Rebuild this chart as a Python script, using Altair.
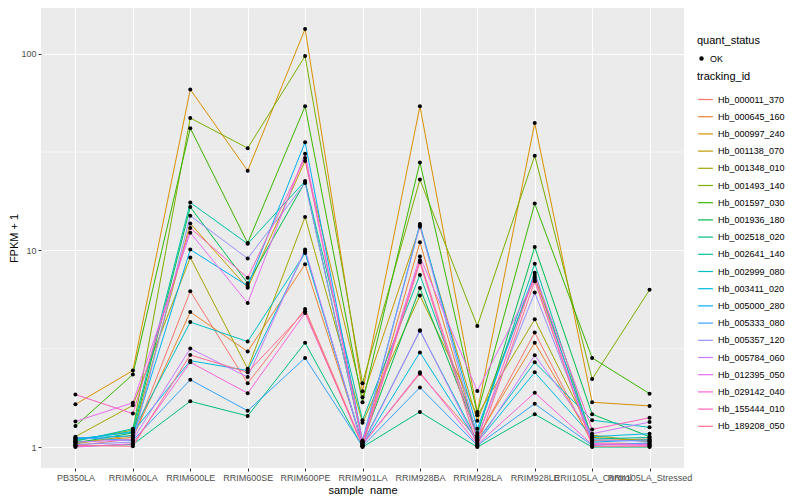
import altair as alt
import pandas as pd

samples = ["PB350LA", "RRIM600LA", "RRIM600LE", "RRIM600SE", "RRIM600PE", "RRIM901LA",
           "RRIM928BA", "RRIM928LA", "RRIM928LE", "RRII105LA_Control", "RRII105LA_Stressed"]

ids = ["Hb_000011_370", "Hb_000645_160", "Hb_000997_240", "Hb_001138_070", "Hb_001348_010",
       "Hb_001493_140", "Hb_001597_030", "Hb_001936_180", "Hb_002518_020", "Hb_002641_140",
       "Hb_002999_080", "Hb_003411_020", "Hb_005000_280", "Hb_005333_080", "Hb_005357_120",
       "Hb_005784_060", "Hb_012395_050", "Hb_029142_040", "Hb_155444_010", "Hb_189208_050"]

hb_000011_370 = [1.02, 1.10, 6.2, 2.11, 5.03, 1.03, 2.36, 1.10, 3.82, 1.05, 1.04]
hb_000645_160 = [1.06, 1.12, 4.86, 3.06, 8.5, 1.05, 11.0, 1.12, 3.39, 1.08, 1.10]
hb_000997_240 = [1.65, 2.45, 65.8, 25.4, 133.6, 1.92, 54.0, 1.51, 44.4, 1.69, 1.62]
hb_001138_070 = [1.04, 1.15, 13.7, 6.45, 28.5, 1.79, 13.2, 1.36, 7.3, 1.12, 1.08]
hb_001348_010 = [1.13, 1.63, 9.2, 2.5, 14.8, 1.33, 5.9, 1.45, 4.46, 1.15, 1.06]
hb_001493_140 = [1.08, 1.22, 47.1, 33.1, 97.2, 2.11, 22.9, 4.13, 30.3, 2.22, 6.3]
hb_001597_030 = [1.28, 2.34, 41.8, 10.9, 54.0, 1.69, 28.0, 1.48, 17.3, 2.84, 1.87]
hb_001936_180 = [1.05, 1.18, 16.6, 6.8, 22.3, 1.06, 6.43, 1.15, 10.4, 1.47, 1.13]
hb_002518_020 = [1.01, 1.03, 1.71, 1.44, 3.39, 1.00, 1.51, 1.00, 1.47, 1.00, 1.00]
hb_002641_140 = [1.07, 1.24, 17.5, 10.8, 22.5, 1.37, 7.5, 1.18, 8.55, 1.10, 1.12]
hb_002999_080 = [1.09, 1.20, 4.32, 3.44, 9.7, 1.04, 3.9, 1.08, 2.70, 1.37, 1.26]
hb_003411_020 = [1.10, 1.19, 2.75, 2.45, 9.9, 1.02, 3.03, 1.06, 2.40, 1.13, 1.17]
hb_005000_280 = [1.11, 1.14, 10.1, 6.6, 35.5, 1.08, 13.6, 1.24, 7.7, 1.06, 1.09]
hb_005333_080 = [1.12, 1.08, 2.20, 1.53, 2.84, 1.01, 2.01, 1.02, 1.66, 1.02, 1.05]
hb_005357_120 = [1.03, 1.06, 15.0, 9.1, 22.0, 1.07, 13.4, 1.13, 6.1, 1.09, 1.07]
hb_005784_060 = [1.06, 1.09, 3.17, 2.27, 10.1, 1.02, 3.93, 1.04, 2.93, 1.17, 1.34]
hb_012395_050 = [1.35, 1.68, 12.3, 5.4, 31.0, 1.05, 9.3, 1.93, 7.1, 1.04, 1.03]
hb_029142_040 = [1.00, 1.04, 2.70, 1.88, 4.8, 1.03, 2.4, 1.03, 1.89, 1.03, 1.02]
hb_155444_010 = [1.85, 1.48, 13.0, 7.25, 29.5, 1.06, 8.9, 1.09, 7.5, 1.23, 1.41]
hb_189208_050 = [1.02, 1.01, 2.94, 2.4, 4.9, 1.01, 8.7, 1.01, 6.97, 1.01, 1.01]

series = [hb_000011_370, hb_000645_160, hb_000997_240, hb_001138_070, hb_001348_010,
          hb_001493_140, hb_001597_030, hb_001936_180, hb_002518_020, hb_002641_140,
          hb_002999_080, hb_003411_020, hb_005000_280, hb_005333_080, hb_005357_120,
          hb_005784_060, hb_012395_050, hb_029142_040, hb_155444_010, hb_189208_050]

palette = ["#F8766D", "#EA8331", "#D89000", "#C09B00", "#A3A500", "#7CAE00", "#39B600",
           "#00BB4E", "#00BF7D", "#00C1A3", "#00BFC4", "#00BAE0", "#00B0F6", "#35A2FF",
           "#9590FF", "#C77CFF", "#E76BF3", "#FA62DB", "#FF62BC", "#FF6C91"]

minor_breaks = [10 ** 0.5, 10 ** 1.5]

rows = []
for tid, vals in zip(ids, series):
    for s, v in zip(samples, vals):
        rows.append({"tracking_id": tid, "sample_name": s, "fpkm1": v, "quant_status": "OK"})
df = pd.DataFrame(rows)

FONT = "Liberation Sans"
W, H = 643, 460

x_axis = alt.Axis(labelAngle=0, labelOverlap=False, grid=True, gridColor="white",
                  gridWidth=1.1, domain=False, tickColor="#333333", tickSize=3,
                  labelColor="#4D4D4D", labelFontSize=9, labelPadding=2,
                  titleFontSize=11, titleFontWeight="normal", titleColor="black",
                  titlePadding=2)
y_axis = alt.Axis(values=[1, 10, 100], format="d", grid=True, gridColor="white",
                  gridWidth=1.1, domain=False, tickColor="#333333", tickSize=3,
                  labelColor="#4D4D4D", labelFontSize=9, labelPadding=2,
                  titleFontSize=11, titleFontWeight="normal", titleColor="black",
                  titlePadding=1)
x_scale = alt.Scale(padding=0.6)
y_scale = alt.Scale(type="log", domain=[0.783, 170.7], nice=False, zero=False)

minor = alt.Chart(pd.DataFrame({"m": minor_breaks})).mark_rule(
    color="white", strokeWidth=0.55).encode(
    y=alt.Y("m:Q", scale=y_scale, title="FPKM + 1", axis=y_axis))

lines = alt.Chart(df).mark_line(strokeWidth=1).encode(
    x=alt.X("sample_name:N", sort=samples, title="sample_name", scale=x_scale, axis=x_axis),
    y=alt.Y("fpkm1:Q", title="FPKM + 1", scale=y_scale, axis=y_axis),
    color=alt.Color("tracking_id:N", scale=alt.Scale(domain=ids, range=palette),
                    legend=alt.Legend(title="tracking_id", orient="none", legendX=W + 13,
                                      legendY=63, symbolType="stroke", symbolSize=220,
                                      symbolStrokeWidth=1.2, rowPadding=3.2,
                                      labelFontSize=9, titleFontSize=11, labelColor="black",
                                      titleFontWeight="normal", labelFont=FONT, titleFont=FONT,
                                      titlePadding=9)),
    detail="tracking_id:N")

points = alt.Chart(df).mark_point(filled=True, color="black", size=16, opacity=1).encode(
    x=alt.X("sample_name:N", sort=samples, title="sample_name", scale=x_scale, axis=x_axis),
    y=alt.Y("fpkm1:Q", title="FPKM + 1", scale=y_scale, axis=y_axis),
    shape=alt.Shape("quant_status:N", scale=alt.Scale(domain=["OK"], range=["circle"]),
                    legend=alt.Legend(title="quant_status", orient="none", legendX=W + 13,
                                      legendY=27, symbolSize=20, symbolFillColor="black",
                                      symbolStrokeColor="black", labelFontSize=9,
                                      labelColor="black",
                                      titleFontSize=11, titleFontWeight="normal",
                                      labelFont=FONT, titleFont=FONT, titlePadding=8)))

chart = alt.layer(minor, lines, points).properties(
    width=W, height=H, padding={"left": 0, "top": 0, "right": 0, "bottom": 0},
    background="white"
).configure_view(fill="#EBEBEB", stroke=None).configure_axis(
    labelFont=FONT, titleFont=FONT
)

chart.save("out.html", embed_options={"renderer": "svg", "actions": False})
